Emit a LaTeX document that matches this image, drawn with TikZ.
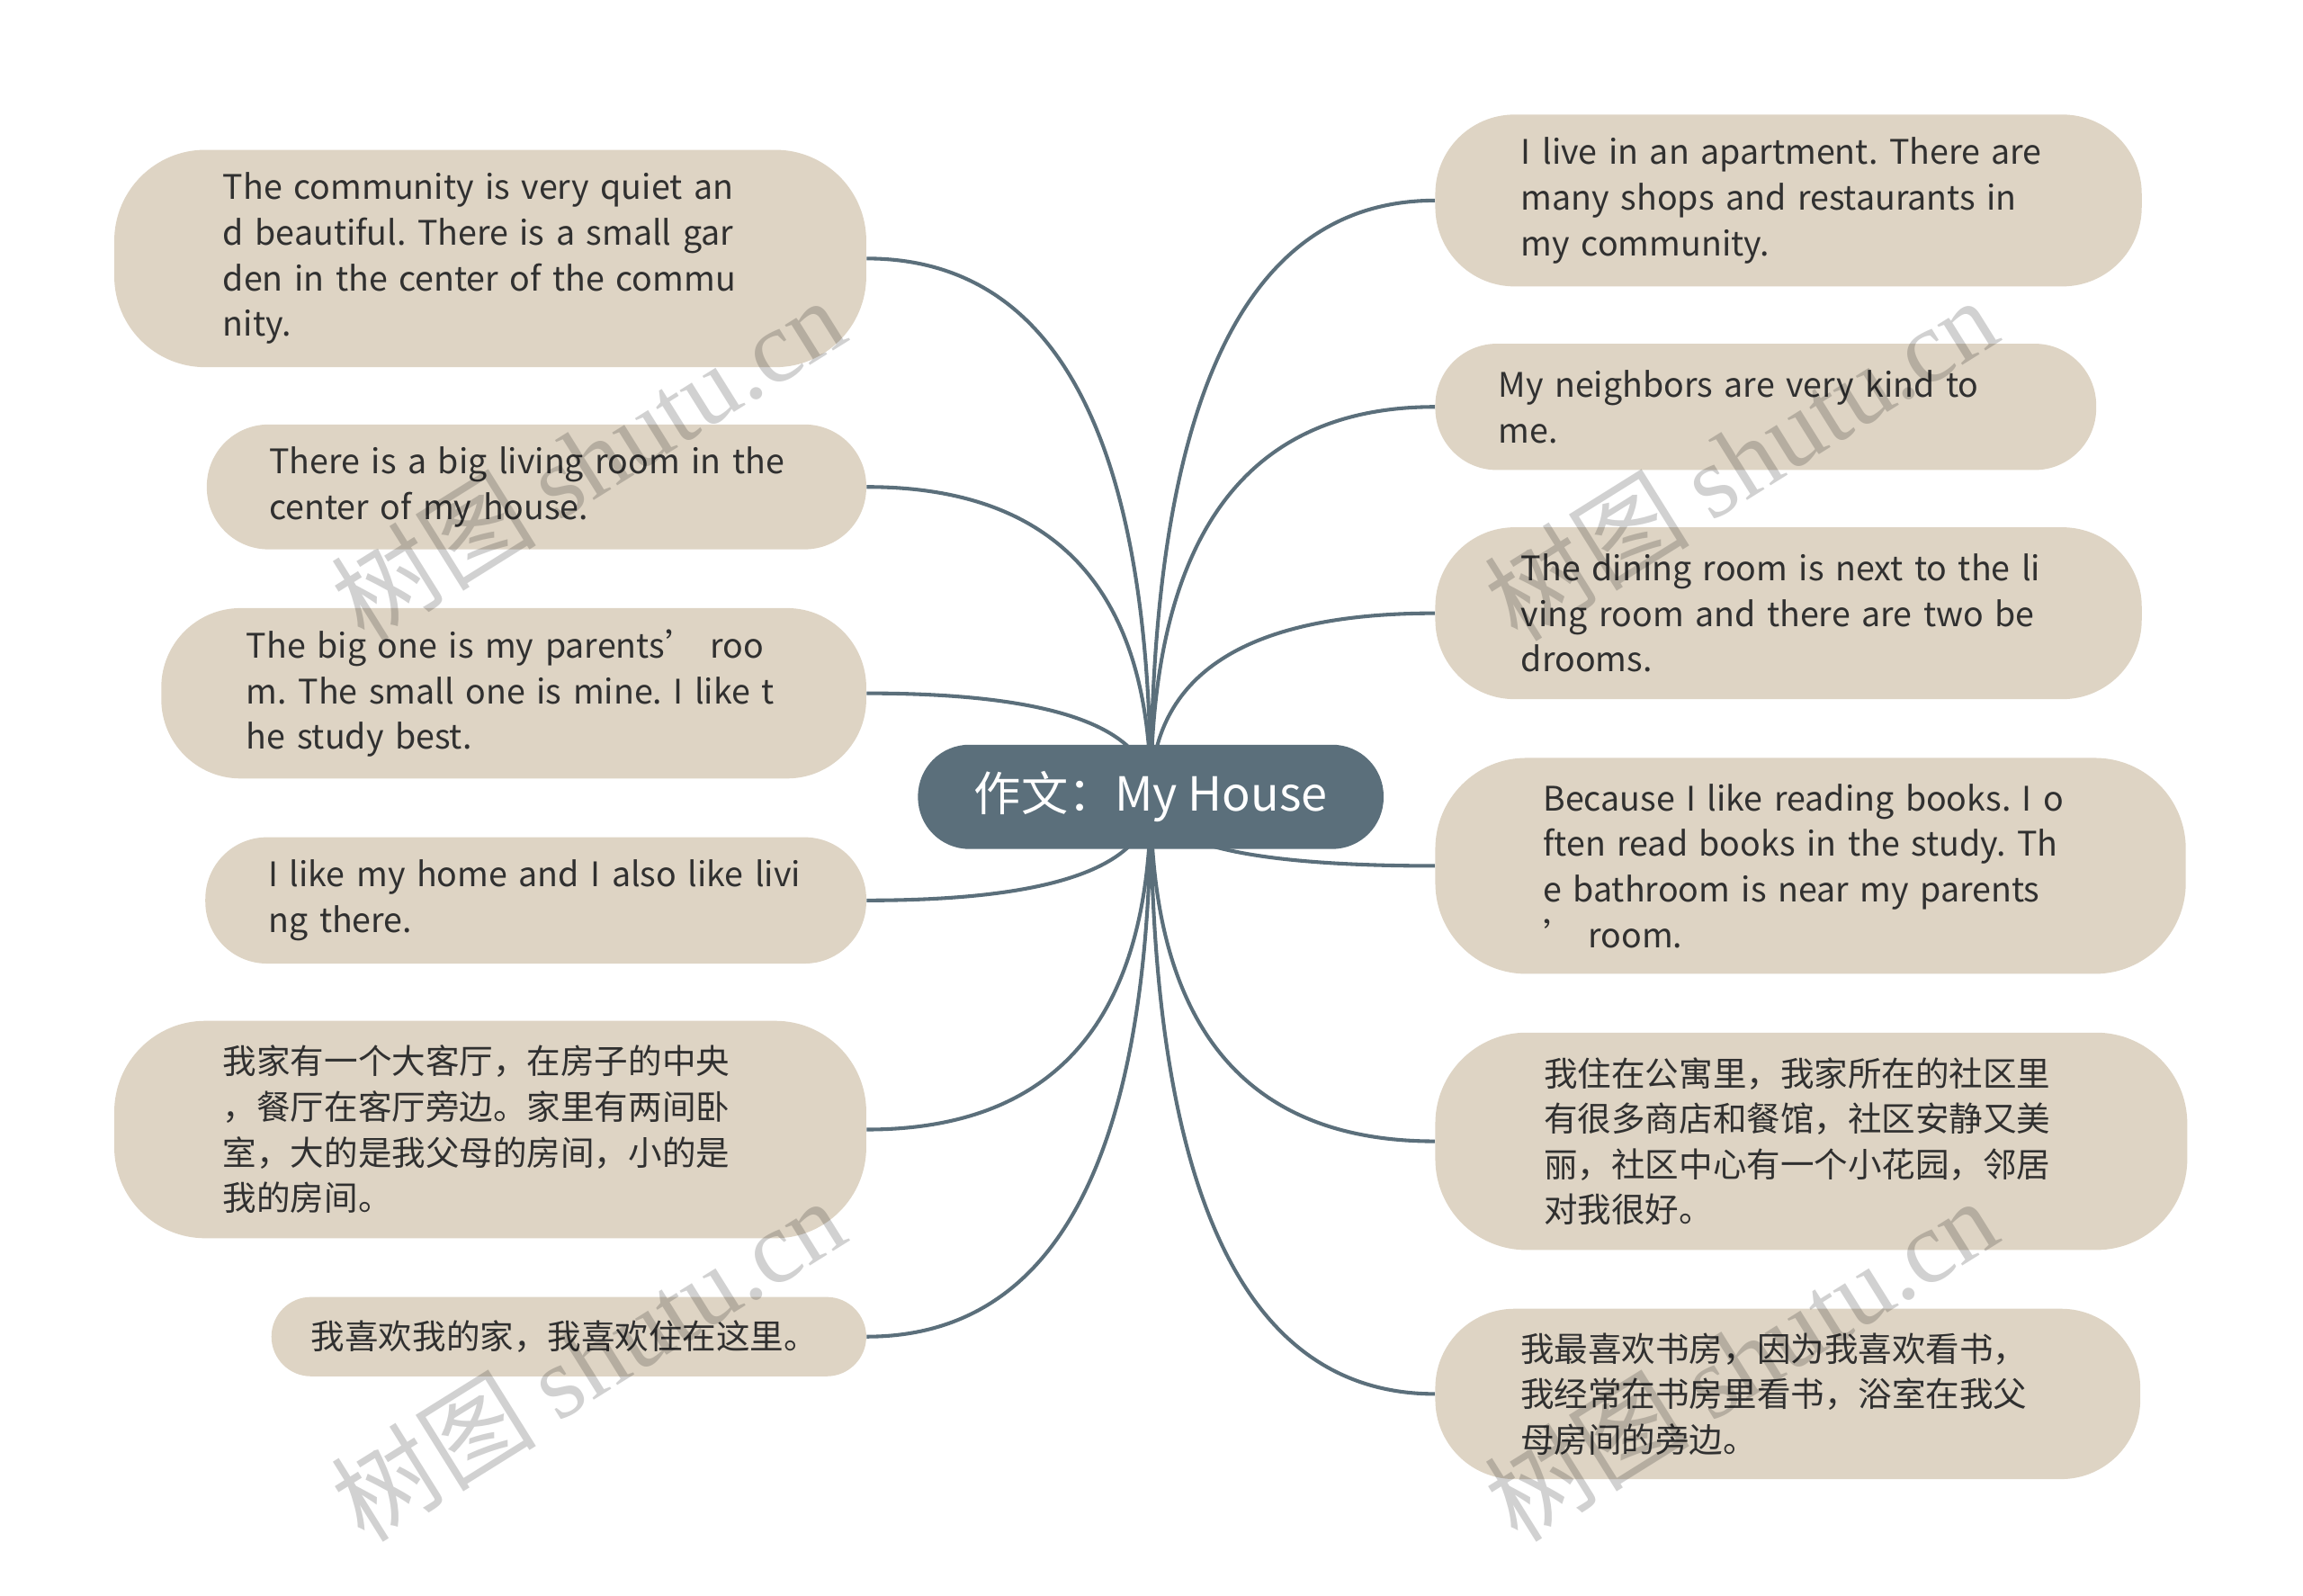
\documentclass[tikz,border=0pt]{standalone}
\usepackage{fontspec}
\setmainfont{Noto Sans CJK SC}
\newfontfamily\markfont{Liberation Serif}
\usetikzlibrary{backgrounds,calc}
\definecolor{rootfill}{HTML}{5B6F7B}
\definecolor{leaffill}{HTML}{DED4C4}
\definecolor{leaftext}{HTML}{303030}
\definecolor{linkcol}{HTML}{5B6F7B}
\frenchspacing

\begin{document}
\begin{tikzpicture}[x=1pt,y=-1pt,
  root/.style={rectangle,fill=rootfill,text=white,rounded corners=35pt,minimum width=317pt,minimum height=71pt,inner sep=0pt,font=\fontsize{32}{38}\selectfont},
  leaf/.style={rectangle,fill=leaffill,text=leaftext,text width=364pt,align=left,inner ysep=0pt,font=\fontsize{23}{31}\selectfont},
  link/.style={draw=linkcol,line width=2.5pt},
  wmark/.style={text=black,text opacity=0.18,rotate=32,inner sep=0pt,font=\fontsize{70}{70}\selectfont}]
\useasboundingbox (0,0) rectangle (1568,1086);

\node[root] (root) at (783.5,542.5) {作文：My House};

% left side
\node[leaf,anchor=east,inner xsep=74pt,minimum height=148pt,rounded corners=62pt] (l1) at (590,176)
  {The community is very quiet an\\d beautiful. There is a small gar\\den in the center of the commu\\nity.};
\node[leaf,anchor=east,inner xsep=42.5pt,minimum height=85pt,rounded corners=42pt] (l2) at (590,331.5)
  {There is a big living room in the\\center of my house.};
\node[leaf,anchor=east,inner xsep=58pt,minimum height=116pt,rounded corners=54pt] (l3) at (590,472)
  {The big one is my parents’ roo\\m. The small one is mine. I like t\\he study best.};
\node[leaf,anchor=east,inner xsep=43pt,minimum height=86pt,rounded corners=42pt] (l4) at (590,613)
  {I like my home and I also like livi\\ng there.};
\node[leaf,anchor=east,inner xsep=74pt,minimum height=148pt,rounded corners=62pt] (l5) at (590,769)
  {我家有一个大客厅，在房子的中央\\，餐厅在客厅旁边。家里有两间卧\\室，大的是我父母的房间，小的是\\我的房间。};
\node[leaf,anchor=east,text width=351pt,inner xsep=27pt,minimum height=54pt,rounded corners=27pt] (l6) at (590,910)
  {我喜欢我的家，我喜欢住在这里。};

% right side
\node[leaf,anchor=west,inner xsep=58.5pt,minimum height=117pt,rounded corners=54pt] (r1) at (977,136.5)
  {I live in an apartment. There are\\many shops and restaurants in\\my community.};
\node[leaf,anchor=west,inner xsep=43pt,minimum height=86pt,rounded corners=42pt] (r2) at (977,277)
  {My neighbors are very kind to\\me.};
\node[leaf,anchor=west,inner xsep=58.5pt,minimum height=117pt,rounded corners=54pt] (r3) at (977,417.5)
  {The dining room is next to the li\\ving room and there are two be\\drooms.};
\node[leaf,anchor=west,inner xsep=73.5pt,minimum height=147pt,rounded corners=62pt] (r4) at (977,589.5)
  {Because I like reading books. I o\\ften read books in the study. Th\\e bathroom is near my parents\\’ room.};
\node[leaf,anchor=west,inner xsep=74pt,minimum height=148pt,rounded corners=62pt] (r5) at (977,777)
  {我住在公寓里，我家所在的社区里\\有很多商店和餐馆，社区安静又美\\丽，社区中心有一个小花园，邻居\\对我很好。};
\node[leaf,anchor=west,inner xsep=58pt,minimum height=116pt,rounded corners=54pt] (r6) at (977,949)
  {我最喜欢书房，因为我喜欢看书，\\我经常在书房里看书，浴室在我父\\母房间的旁边。};

\begin{pgfonlayer}{background}
\foreach \n in {l1,l2,l3,l4,l5,l6}
  \draw[link] (root.center) .. controls ($(root.center)!.667!(root.center |- \n.east)$)
    and ($(\n.east)!.667!(root.center |- \n.east)$) .. (\n.east);
\foreach \n in {r1,r2,r3,r4,r5,r6}
  \draw[link] (root.center) .. controls ($(root.center)!.667!(root.center |- \n.west)$)
    and ($(\n.west)!.667!(root.center |- \n.west)$) .. (\n.west);
\end{pgfonlayer}

% watermarks
\node[wmark] (m1) at (400,312) {树图 {\markfont shutu.cn}};
\node[wmark] (m2) at (400,925) {树图 {\markfont shutu.cn}};
\node[wmark] (m3) at (1185,312) {树图 {\markfont shutu.cn}};
\node[wmark] (m4) at (1185,925) {树图 {\markfont shutu.cn}};
\end{tikzpicture}
\end{document}
